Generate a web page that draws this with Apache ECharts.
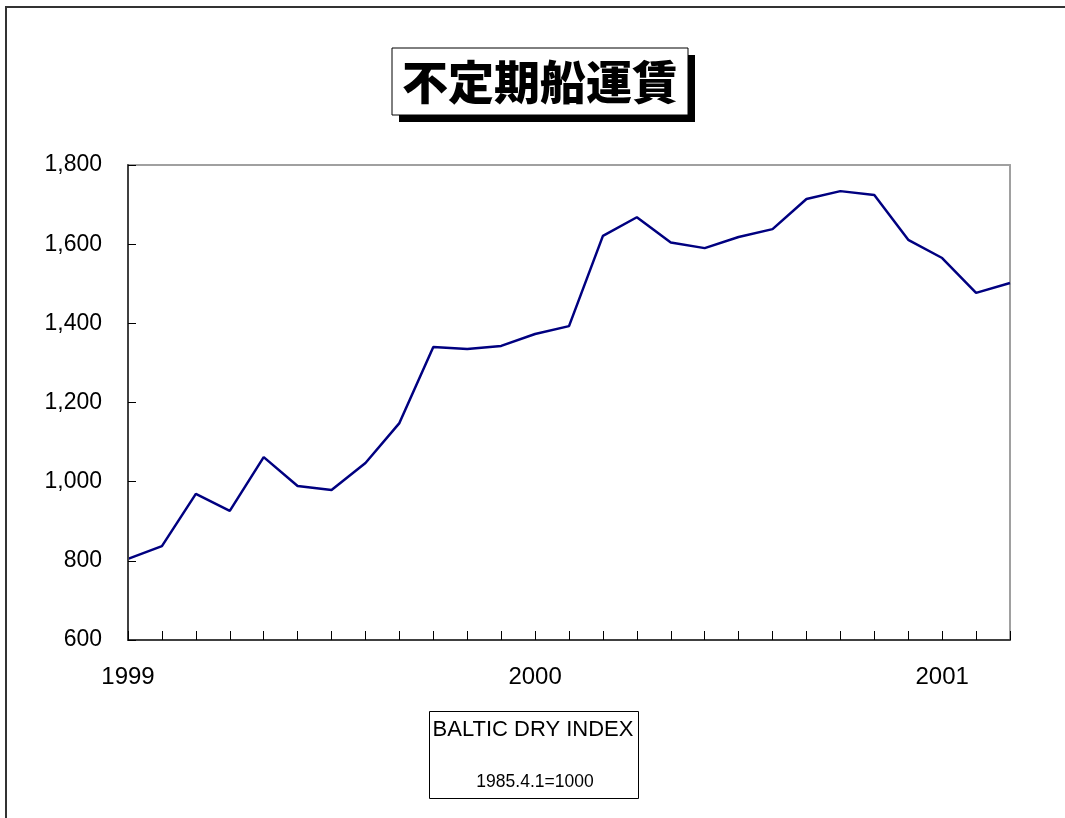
<!DOCTYPE html>
<html>
<head>
<meta charset="utf-8">
<script src="https://cdn.jsdelivr.net/npm/echarts@6/dist/echarts.min.js"></script>
<style>
  html, body { margin: 0; padding: 0; background: #fff; }
  #chart { width: 1065px; height: 818px; }
</style>
</head>
<body>
<div id="chart"></div>
<script>
// monthly, Jan 1999 - Mar 2001
const months = [
  '1999-01', '1999-02', '1999-03', '1999-04', '1999-05', '1999-06',
  '1999-07', '1999-08', '1999-09', '1999-10', '1999-11', '1999-12',
  '2000-01', '2000-02', '2000-03', '2000-04', '2000-05', '2000-06',
  '2000-07', '2000-08', '2000-09', '2000-10', '2000-11', '2000-12',
  '2001-01', '2001-02', '2001-03'
];
const bdi = [
  805, 837, 969, 926, 1062, 989, 979, 1047, 1148, 1340, 1335, 1343,
  1373, 1393, 1621, 1668, 1604, 1590, 1618, 1638, 1714, 1734, 1724, 1611,
  1565, 1477, 1502
];
const titleText = '不定期船運賃';
const noteLines = ['BALTIC DRY INDEX', '1985.4.1=1000'];

const latin = '"Liberation Sans", Arial, sans-serif';
const cjk = '"Noto Sans CJK JP", "Noto Sans CJK SC", sans-serif';

const chart = echarts.init(document.getElementById('chart'));

// plain frame axes for the top and right edges of the plot
const frameX = {
  type: 'category', data: months, boundaryGap: false, position: 'top',
  axisLine: { show: true, lineStyle: { color: '#a0a0a0', width: 2 } },
  axisTick: { show: false }, axisLabel: { show: false }, splitLine: { show: false }
};
const frameY = {
  type: 'value', min: 600, max: 1800, interval: 200, position: 'right',
  axisLine: { show: true, lineStyle: { color: '#a0a0a0', width: 2 } },
  axisTick: { show: false }, axisLabel: { show: false }, splitLine: { show: false }
};

chart.setOption({
  backgroundColor: '#fff',
  animation: false,
  grid: { left: 128, right: 55, top: 165, bottom: 178 },
  xAxis: [{
    type: 'category',
    data: months,
    boundaryGap: false,
    position: 'bottom',
    z: 4,
    axisLine: { lineStyle: { color: '#404040', width: 2 } },
    axisTick: { inside: true, length: 9, interval: 0, lineStyle: { color: '#000', width: 1 } },
    axisLabel: {
      interval: 0,
      margin: 25,
      color: '#000',
      fontFamily: latin,
      fontSize: 24,
      formatter: function (v) {
        return v.slice(5) === '01' ? v.slice(0, 4) : '';
      }
    },
    splitLine: { show: false }
  }, frameX],
  yAxis: [{
    type: 'value',
    min: 600,
    max: 1800,
    interval: 200,
    position: 'left',
    z: 4,
    axisLine: { show: true, lineStyle: { color: '#404040', width: 2 } },
    axisTick: { show: true, inside: true, length: 8, lineStyle: { color: '#000', width: 1 } },
    axisLabel: {
      margin: 26,
      color: '#000',
      fontFamily: latin,
      fontSize: 23,
      formatter: function (v) { return v.toLocaleString('en-US'); }
    },
    splitLine: { show: false }
  }, frameY],
  series: [{
    type: 'line',
    data: bdi,
    symbol: 'none',
    lineStyle: { color: '#000080', width: 2.5 },
    z: 3
  }],
  graphic: [
    // outer frame (top and left edges)
    {
      type: 'polyline',
      shape: { points: [[6, 818], [6, 7], [1065, 7]] },
      style: { stroke: '#333', lineWidth: 2, fill: null },
      silent: true
    },
    // title box with drop shadow
    {
      type: 'rect',
      shape: { x: 399, y: 55, width: 296, height: 67 },
      style: { fill: '#000' },
      silent: true
    },
    {
      type: 'rect',
      shape: { x: 392, y: 48, width: 296, height: 67 },
      style: { fill: '#fff', stroke: '#000', lineWidth: 1 },
      silent: true
    },
    {
      type: 'text',
      style: {
        text: titleText,
        x: 540, y: 82,
        textAlign: 'center',
        textVerticalAlign: 'middle',
        font: '900 46px ' + cjk,
        fill: '#000'
      },
      silent: true
    },
    // note box under the chart
    {
      type: 'rect',
      shape: { x: 429.5, y: 711.5, width: 209, height: 87 },
      style: { fill: '#fff', stroke: '#000', lineWidth: 1 },
      silent: true
    },
    {
      type: 'text',
      style: {
        text: noteLines[0],
        x: 533, y: 730,
        textAlign: 'center',
        textVerticalAlign: 'middle',
        font: '22px ' + latin,
        fill: '#000'
      },
      silent: true
    },
    {
      type: 'text',
      style: {
        text: noteLines[1],
        x: 535, y: 782,
        textAlign: 'center',
        textVerticalAlign: 'middle',
        font: '17.5px ' + latin,
        fill: '#000'
      },
      silent: true
    }
  ]
});
</script>
</body>
</html>
